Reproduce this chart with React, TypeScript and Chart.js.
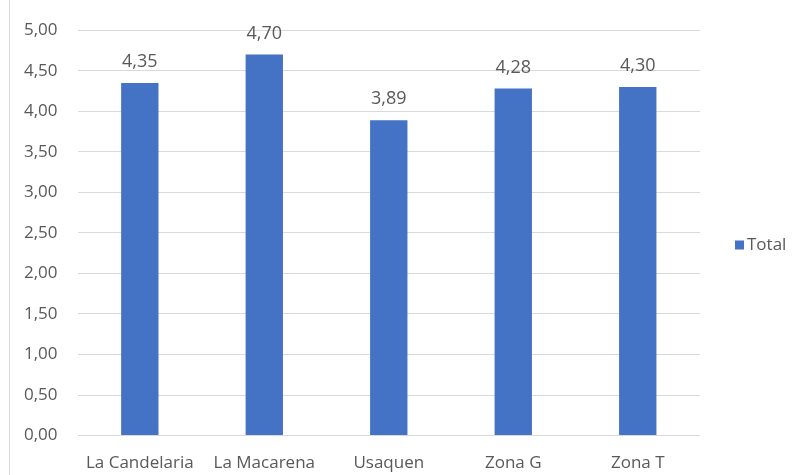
import React, { useEffect, useRef } from "react";
import { Chart, registerables } from "chart.js";

Chart.register(...registerables);

const categories = ["La Candelaria", "La Macarena", "Usaquen", "Zona G", "Zona T"];
const totals = [4.35, 4.7, 3.89, 4.28, 4.3];
const seriesName = "Total";
const yMin = 0;
const yMax = 5;
const yStep = 0.5;

const BAR_COLOR = "#4472C4";
const TEXT_COLOR = "#595959";
const FONT = "'Open Sans', 'Noto Sans', sans-serif";

const fmt = (v: number) => v.toFixed(2).replace(".", ",");

const extras = {
  id: "extras",
  afterDraw(chart: any) {
    const ctx = chart.ctx;
    ctx.save();
    // left border line
    ctx.strokeStyle = "#d9d9d9";
    ctx.lineWidth = 1;
    ctx.beginPath();
    ctx.moveTo(9.5, 0);
    ctx.lineTo(9.5, chart.height);
    ctx.stroke();
    // data labels
    const meta = chart.getDatasetMeta(0);
    ctx.fillStyle = TEXT_COLOR;
    ctx.font = `18px ${FONT}`;
    ctx.textAlign = "center";
    ctx.textBaseline = "middle";
    meta.data.forEach((bar: any, i: number) => {
      ctx.fillText(fmt(totals[i]), bar.x, bar.y - 21);
    });
    // legend
    const cy = 245;
    const lx = 735;
    ctx.fillStyle = BAR_COLOR;
    ctx.fillRect(lx, cy - 4.5, 9, 9);
    ctx.fillStyle = TEXT_COLOR;
    ctx.font = `17px ${FONT}`;
    ctx.textAlign = "left";
    ctx.fillText(seriesName, lx + 12, cy + 0.5);
    ctx.restore();
  },
};

export default function App() {
  const ref = useRef<HTMLCanvasElement | null>(null);
  useEffect(() => {
    if (!ref.current) return;
    const chart = new Chart(ref.current, {
      type: "bar",
      data: {
        labels: categories,
        datasets: [
          {
            label: seriesName,
            data: totals,
            backgroundColor: BAR_COLOR,
            barPercentage: 0.3,
            categoryPercentage: 1,
          },
        ],
      },
      options: {
        responsive: false,
        animation: false,
        layout: { padding: { top: 30, left: 4, right: 93, bottom: 0 } },
        plugins: { legend: { display: false }, tooltip: { enabled: false } },
        scales: {
          x: {
            grid: { display: false, drawTicks: false },
            border: { display: false },
            ticks: { color: TEXT_COLOR, font: { family: FONT, size: 17 }, padding: 17 },
          },
          y: {
            min: yMin,
            max: yMax,
            grid: { color: "#d9d9d9", drawTicks: false },
            border: { display: false },
            ticks: {
              stepSize: yStep,
              color: TEXT_COLOR,
              font: { family: FONT, size: 17 },
              padding: 20,
              callback: (v: any) => fmt(Number(v)),
            },
          },
        },
      },
      plugins: [extras],
    });
    return () => chart.destroy();
  }, []);
  return (
    <div
      style={{
        position: "fixed",
        left: 0,
        top: 0,
        width: 793,
        height: 475,
        overflow: "hidden",
        background: "#fff",
      }}
    >
      <canvas ref={ref} width={793} height={490} />
    </div>
  );
}
